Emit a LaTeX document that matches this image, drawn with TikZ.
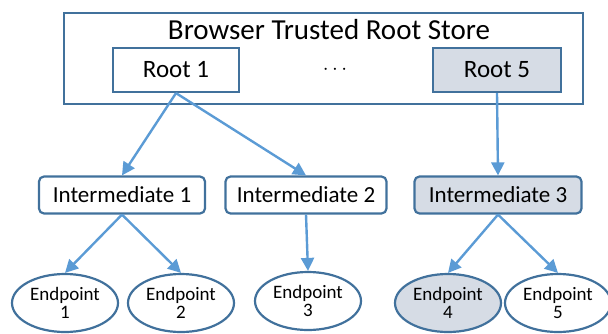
\documentclass[tikz,border=0pt]{standalone}
\usepackage{fontspec}
\setmainfont{Carlito}
\usetikzlibrary{arrows.meta,shapes.geometric}
\definecolor{edgeblue}{HTML}{41719C}
\definecolor{arrowblue}{HTML}{5B9BD5}
\definecolor{shade}{HTML}{D6DCE5}
\begin{document}
\begin{tikzpicture}[x=1pt,y=-1pt,
    rootbox/.style={draw=edgeblue,line width=2.2pt,minimum width=126pt,minimum height=44pt,inner sep=0pt,font=\fontsize{25}{28}\selectfont},
    midbox/.style={draw=edgeblue,line width=2.2pt,rounded corners=5pt,minimum height=37pt,inner sep=0pt,font=\fontsize{23}{26}\selectfont},
    leaf/.style={ellipse,draw=edgeblue,line width=2.2pt,minimum width=106pt,minimum height=58pt,inner sep=0pt,align=center,font=\fontsize{19}{18}\selectfont},
    link/.style={draw=arrowblue,line width=2.4pt,-{Triangle[length=13pt,width=13pt]}}]

    \useasboundingbox (0,0) rectangle (608,333);

    % Outline the root store
    \draw[draw=edgeblue,line width=2.2pt] (64,13) rectangle (583,104);
    \node[font=\fontsize{29}{30}\selectfont] (store) at (329,30) {Browser Trusted Root Store};

    % Roots
    \node[rootbox] (root1) at (176,70) {Root 1};
    \node[font=\fontsize{22}{24}\selectfont] (dots) at (335,70) {$\cdots$};
    \node[rootbox,fill=shade,minimum width=128pt] (root5) at (497,70) {Root 5};

    % Intermediates
    \node[midbox,minimum width=166pt] (int1) at (122,195) {Intermediate 1};
    \node[midbox,minimum width=161pt] (int2) at (306,195) {Intermediate 2};
    \node[midbox,fill=shade,minimum width=167pt] (int3) at (498,195) {Intermediate 3};

    % Endpoints
    \node[leaf] (ep1) at (65,303) {Endpoint\\1};
    \node[leaf] (ep2) at (181,303) {Endpoint\\2};
    \node[leaf] (ep3) at (308,301) {Endpoint\\3};
    \node[leaf,fill=shade] (ep4) at (448,303) {Endpoint\\4};
    \node[leaf] (ep5) at (558,303) {Endpoint\\5};

    % Arrows
    \draw[link] (root1.south) -- (int1.north);
    \draw[link] (root1.south) -- (int2.north);
    \draw[link] (root5.south) -- (int3.north);
    \draw[link] (int1.south) -- (ep1.north);
    \draw[link] (int1.south) -- (ep2.north);
    \draw[link] (int2.south) -- (ep3.north);
    \draw[link] (int3.south) -- (ep4.north);
    \draw[link] (int3.south) -- (ep5.north);
\end{tikzpicture}
\end{document}
